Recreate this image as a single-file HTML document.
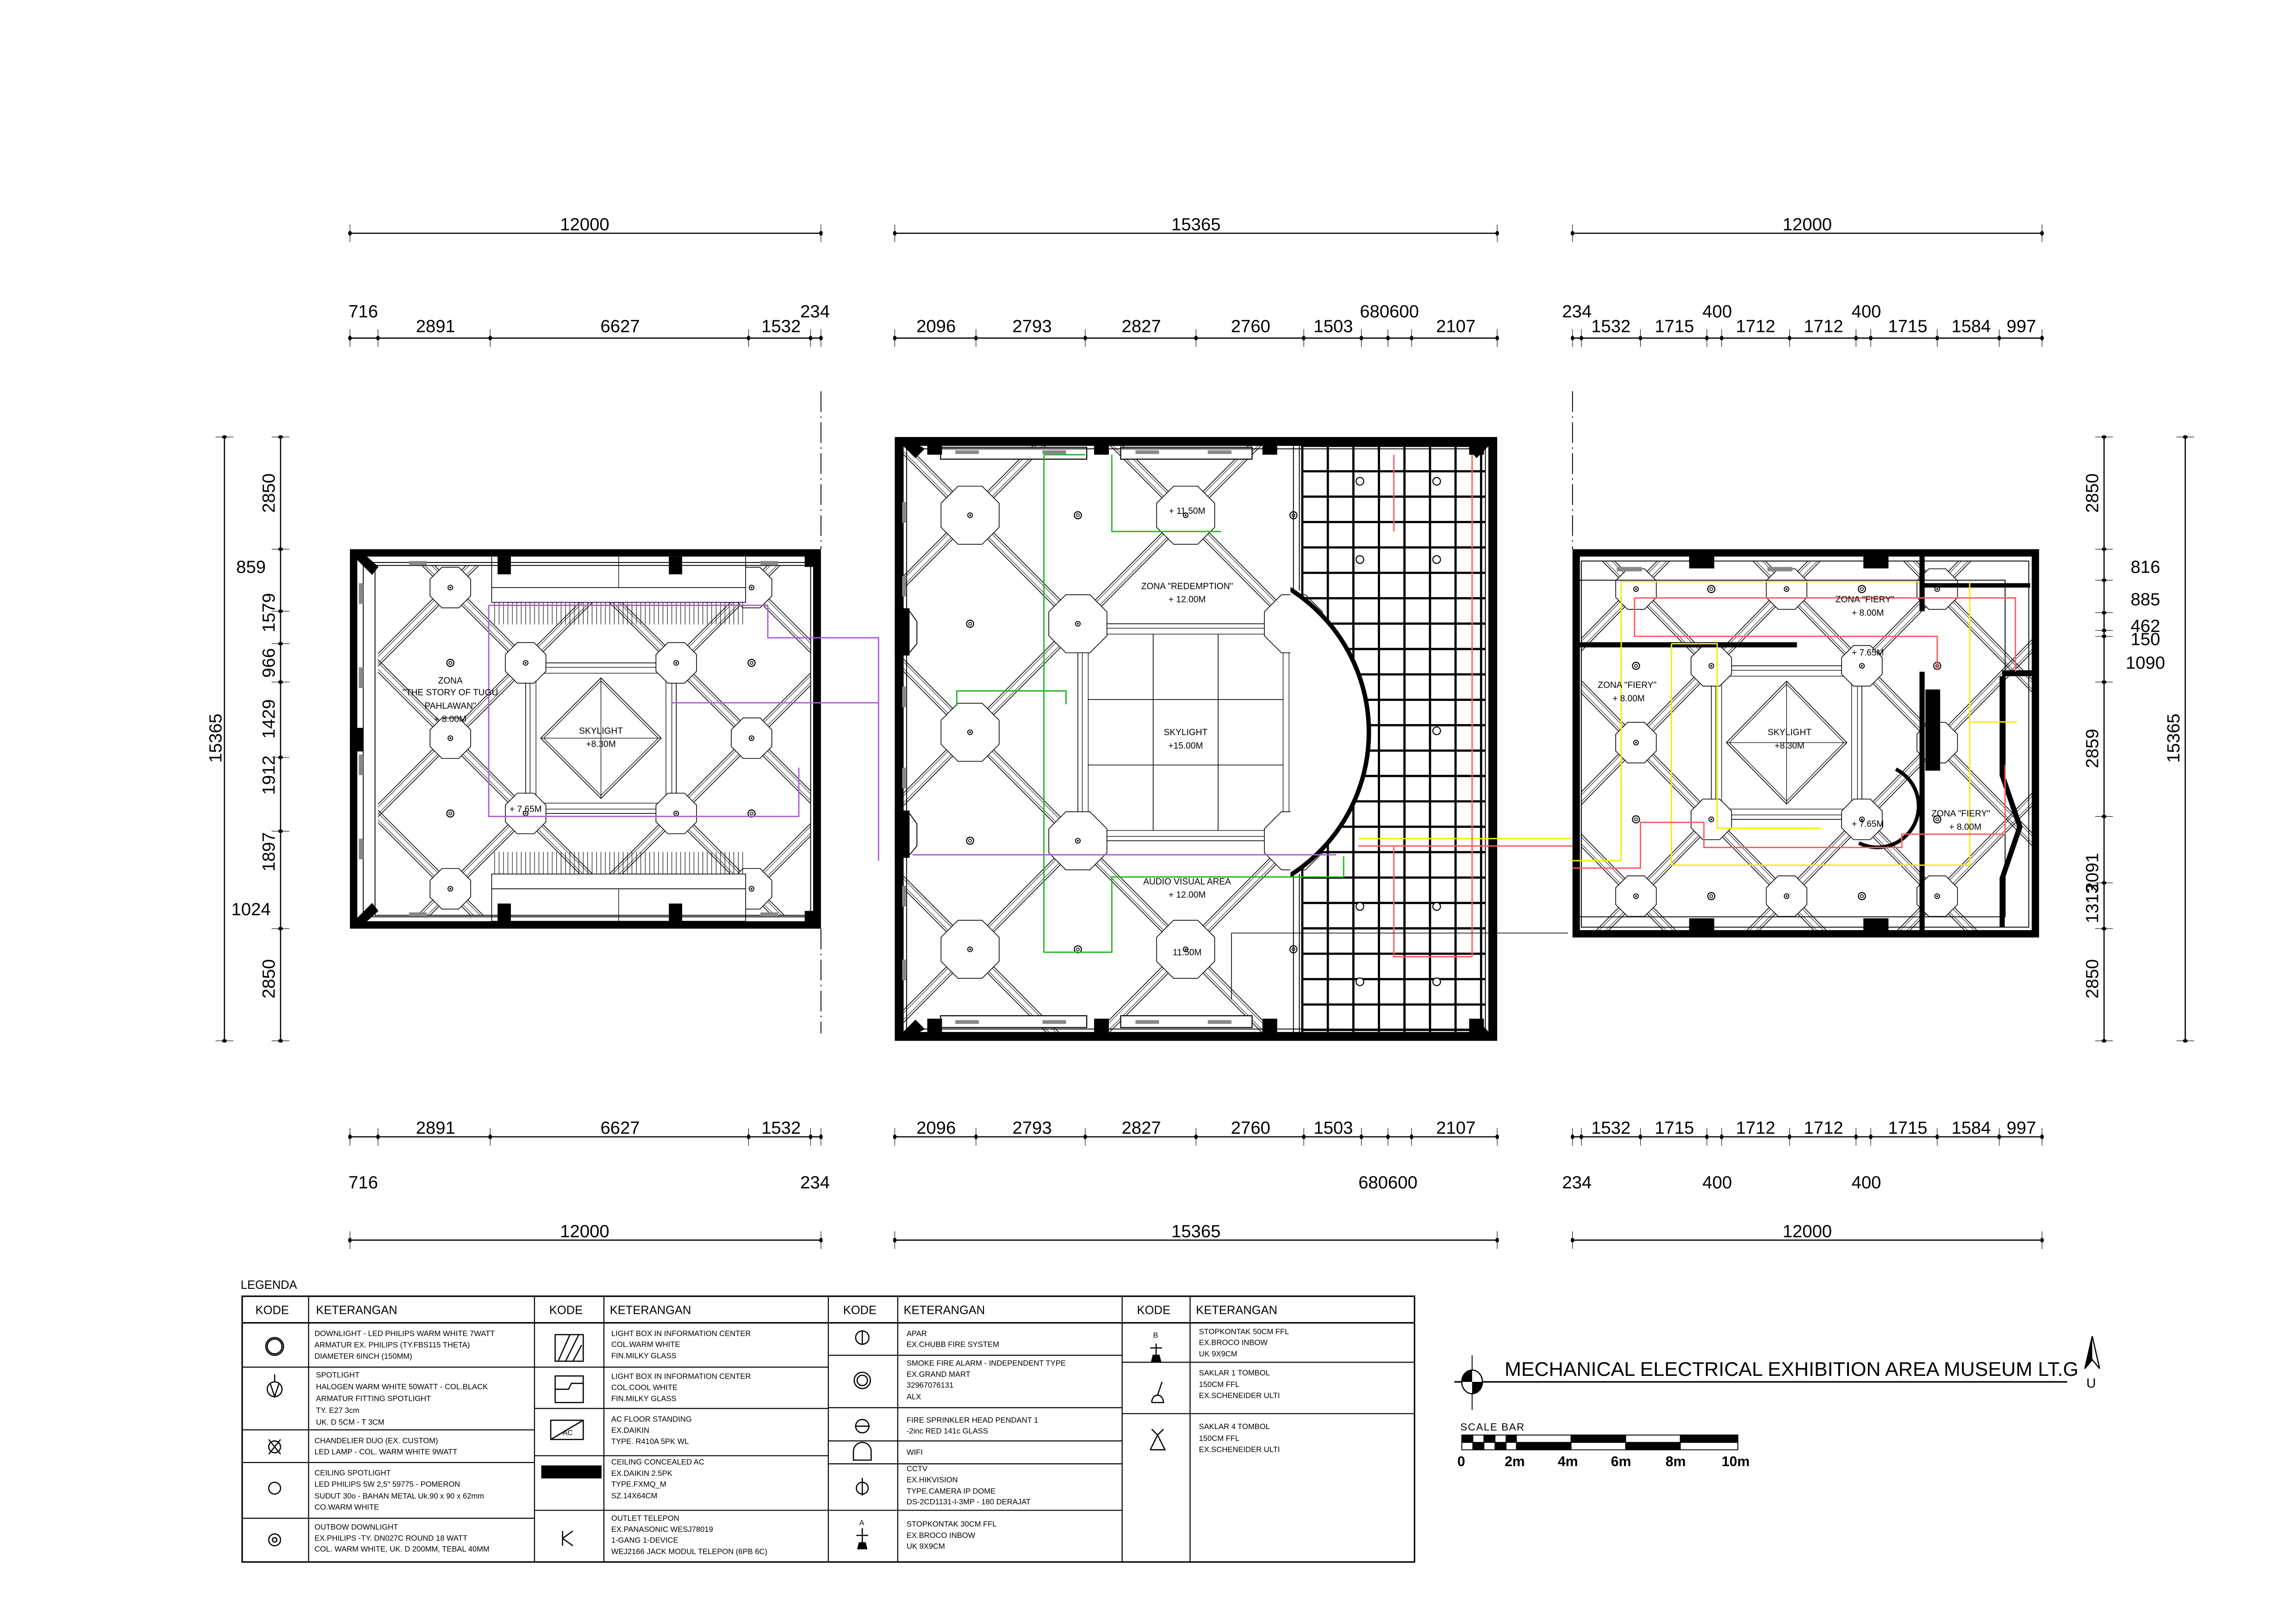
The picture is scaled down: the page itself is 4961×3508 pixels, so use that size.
<!DOCTYPE html>
<html><head><meta charset="utf-8"><style>
html,body{margin:0;padding:0;background:#fff}
svg{display:block}
text{font-family:"Liberation Sans",sans-serif;fill:#000}
.d{font-size:12px;text-anchor:middle}
.l{font-size:6px;text-anchor:middle}
.t{font-size:5.2px}
.h{font-size:8px}
</style></head><body>
<svg id="s" xmlns="http://www.w3.org/2000/svg" width="4961" height="3508" viewBox="0 0 1555 1100" preserveAspectRatio="none">
<rect width="1555" height="1100" fill="#fff"/>
<g id="geo"></g>
<!-- top dimension texts -->
<g class="dt">
<text class="d" x="396" y="156">12000</text><text class="d" x="810" y="156">15365</text><text class="d" x="1224" y="156">12000</text>
<text class="d" x="246" y="215">716</text><text class="d" x="552" y="215">234</text>
<text class="d" x="295" y="225">2891</text><text class="d" x="420" y="225">6627</text><text class="d" x="529" y="225">1532</text>
<text class="d" x="634" y="225">2096</text><text class="d" x="699" y="225">2793</text><text class="d" x="773" y="225">2827</text><text class="d" x="847" y="225">2760</text><text class="d" x="903" y="225">1503</text><text class="d" x="941" y="215">680600</text><text class="d" x="986" y="225">2107</text>
<text class="d" x="1068" y="215">234</text><text class="d" x="1163" y="215">400</text><text class="d" x="1264" y="215">400</text>
<text class="d" x="1091" y="225">1532</text><text class="d" x="1134" y="225">1715</text><text class="d" x="1189" y="225">1712</text><text class="d" x="1235" y="225">1712</text><text class="d" x="1292" y="225">1715</text><text class="d" x="1335" y="225">1584</text><text class="d" x="1369" y="225">997</text>
<!-- bottom -->
<text class="d" x="295" y="768">2891</text><text class="d" x="420" y="768">6627</text><text class="d" x="529" y="768">1532</text>
<text class="d" x="634" y="768">2096</text><text class="d" x="699" y="768">2793</text><text class="d" x="773" y="768">2827</text><text class="d" x="847" y="768">2760</text><text class="d" x="903" y="768">1503</text><text class="d" x="986" y="768">2107</text>
<text class="d" x="1091" y="768">1532</text><text class="d" x="1134" y="768">1715</text><text class="d" x="1189" y="768">1712</text><text class="d" x="1235" y="768">1712</text><text class="d" x="1292" y="768">1715</text><text class="d" x="1335" y="768">1584</text><text class="d" x="1369" y="768">997</text>
<text class="d" x="246" y="805">716</text><text class="d" x="552" y="805">234</text><text class="d" x="940" y="805">680600</text>
<text class="d" x="1068" y="805">234</text><text class="d" x="1163" y="805">400</text><text class="d" x="1264" y="805">400</text>
<text class="d" x="396" y="838">12000</text><text class="d" x="810" y="838">15365</text><text class="d" x="1224" y="838">12000</text>
<!-- left vertical -->
<text class="d" transform="translate(150,500) rotate(-90)">15365</text>
<text class="d" transform="translate(186,334) rotate(-90)">2850</text>
<text class="d" x="170" y="388">859</text>
<text class="d" transform="translate(186,415) rotate(-90)">1579</text>
<text class="d" transform="translate(186,449) rotate(-90)">966</text>
<text class="d" transform="translate(186,487) rotate(-90)">1429</text>
<text class="d" transform="translate(186,525) rotate(-90)">1912</text>
<text class="d" transform="translate(186,577) rotate(-90)">1897</text>
<text class="d" x="170" y="620">1024</text>
<text class="d" transform="translate(186,663) rotate(-90)">2850</text>
<!-- right vertical -->
<text class="d" transform="translate(1421,334) rotate(-90)">2850</text>
<text class="d" x="1453" y="388">816</text><text class="d" x="1453" y="410">885</text><text class="d" x="1453" y="428">462</text><text class="d" x="1453" y="437">150</text><text class="d" x="1453" y="453">1090</text>
<text class="d" transform="translate(1421,507) rotate(-90)">2859</text>
<text class="d" transform="translate(1421,591) rotate(-90)">2091</text>
<text class="d" transform="translate(1421,612) rotate(-90)">1313</text>
<text class="d" transform="translate(1421,663) rotate(-90)">2850</text>
<text class="d" transform="translate(1476,500) rotate(-90)">15365</text>
</g>
<!-- plan labels -->
<g>
<text class="l" x="305" y="463">ZONA</text><text class="l" x="305" y="471">"THE STORY OF TUGU</text><text class="l" x="305" y="480">PAHLAWAN"</text><text class="l" x="305" y="489">+ 8.00M</text>
<text class="l" x="407" y="497">SKYLIGHT</text><text class="l" x="407" y="506">+8.30M</text><text class="l" x="356" y="550">+ 7.65M</text>
<text class="l" x="804" y="348">+ 11.50M</text><text class="l" x="804" y="399">ZONA "REDEMPTION"</text><text class="l" x="804" y="408">+ 12.00M</text>
<text class="l" x="803" y="498">SKYLIGHT</text><text class="l" x="803" y="507">+15.00M</text>
<text class="l" x="804" y="599">AUDIO VISUAL AREA</text><text class="l" x="804" y="608">+ 12.00M</text><text class="l" x="804" y="647">11.50M</text>
<text class="l" x="1263" y="408">ZONA "FIERY"</text><text class="l" x="1265" y="417">+ 8.00M</text>
<text class="l" x="1102" y="466">ZONA "FIERY"</text><text class="l" x="1103" y="475">+ 8.00M</text>
<text class="l" x="1212" y="498">SKYLIGHT</text><text class="l" x="1212" y="507">+8.30M</text>
<text class="l" x="1265" y="444">+ 7.65M</text><text class="l" x="1265" y="560">+ 7.65M</text>
<text class="l" x="1328" y="553">ZONA "FIERY"</text><text class="l" x="1331" y="562">+ 8.00M</text>
</g>
<!-- legend -->
<g>
<text class="h" x="163" y="873">LEGENDA</text>
<rect x="164" y="878" width="794" height="180" fill="none" stroke="#000" stroke-width="1"/>
<line x1="164" y1="896" x2="958" y2="896" stroke="#000" stroke-width="1"/>
<g stroke="#000" stroke-width="0.7">
<line x1="209" y1="878" x2="209" y2="1058"/><line x1="362" y1="878" x2="362" y2="1058"/><line x1="409" y1="878" x2="409" y2="1058"/><line x1="561" y1="878" x2="561" y2="1058"/><line x1="608" y1="878" x2="608" y2="1058"/><line x1="760" y1="878" x2="760" y2="1058"/><line x1="806" y1="878" x2="806" y2="1058"/>
<line x1="164" y1="926" x2="362" y2="926"/><line x1="164" y1="968.5" x2="362" y2="968.5"/><line x1="164" y1="990.6" x2="362" y2="990.6"/><line x1="164" y1="1028.4" x2="362" y2="1028.4"/>
<line x1="362" y1="926" x2="561" y2="926"/><line x1="362" y1="954" x2="561" y2="954"/><line x1="362" y1="986" x2="561" y2="986"/><line x1="362" y1="1023" x2="561" y2="1023"/>
<line x1="561" y1="918" x2="760" y2="918"/><line x1="561" y1="953.5" x2="760" y2="953.5"/><line x1="561" y1="976" x2="760" y2="976"/><line x1="561" y1="991.5" x2="760" y2="991.5"/><line x1="561" y1="1023" x2="760" y2="1023"/>
<line x1="760" y1="922.7" x2="958" y2="922.7"/><line x1="760" y1="957.5" x2="958" y2="957.5"/>
</g>
<text class="h" x="173" y="890">KODE</text><text class="h" x="214" y="890">KETERANGAN</text>
<text class="h" x="372" y="890">KODE</text><text class="h" x="413" y="890">KETERANGAN</text>
<text class="h" x="571" y="890">KODE</text><text class="h" x="612" y="890">KETERANGAN</text>
<text class="h" x="770" y="890">KODE</text><text class="h" x="810" y="890">KETERANGAN</text>
<g class="t">
<text x="213" y="905">DOWNLIGHT - LED PHILIPS WARM WHITE 7WATT</text><text x="213" y="912.6">ARMATUR EX. PHILIPS (TY.FBS115 THETA)</text><text x="213" y="920.4">DIAMETER 6INCH (150MM)</text>
<text x="214" y="933">SPOTLIGHT</text><text x="214" y="941">HALOGEN WARM WHITE 50WATT - COL.BLACK</text><text x="214" y="949">ARMATUR FITTING SPOTLIGHT</text><text x="214" y="957">TY. E27 3cm</text><text x="214" y="965">UK. D 5CM - T 3CM</text>
<text x="213" y="977.6">CHANDELIER DUO (EX. CUSTOM)</text><text x="213" y="985">LED LAMP - COL. WARM WHITE 9WATT</text>
<text x="213" y="999.4">CEILING SPOTLIGHT</text><text x="213" y="1007">LED PHILIPS 5W 2,5" 59775 -  POMERON</text><text x="213" y="1015">SUDUT 30o - BAHAN METAL Uk.90 x 90 x 62mm</text><text x="213" y="1022.6">CO.WARM WHITE</text>
<text x="213" y="1036">OUTBOW DOWNLIGHT</text><text x="213" y="1043.5">EX.PHILIPS -TY. DN027C ROUND 18 WATT</text><text x="213" y="1051">COL. WARM WHITE, UK. D 200MM, TEBAL 40MM</text>
<text x="414" y="905">LIGHT BOX IN INFORMATION CENTER</text><text x="414" y="912.4">COL.WARM WHITE</text><text x="414" y="920">FIN.MILKY GLASS</text>
<text x="414" y="934">LIGHT BOX IN INFORMATION CENTER</text><text x="414" y="941.5">COL.COOL WHITE</text><text x="414" y="949">FIN.MILKY GLASS</text>
<text x="414" y="963">AC FLOOR STANDING</text><text x="414" y="970.5">EX.DAIKIN</text><text x="414" y="978">TYPE.  R410A 5PK WL</text>
<text x="414" y="992">CEILING CONCEALED AC</text><text x="414" y="999.6">EX.DAIKIN 2.5PK</text><text x="414" y="1007">TYPE.FXMQ_M</text><text x="414" y="1014.8">SZ.14X64CM</text>
<text x="414" y="1030">OUTLET TELEPON</text><text x="414" y="1037.6">EX.PANASONIC WESJ78019</text><text x="414" y="1045">1-GANG 1-DEVICE</text><text x="414" y="1052.6">WEJ2166 JACK MODUL TELEPON (6PB 6C)</text>
<text x="614" y="905">APAR</text><text x="614" y="912.4">EX.CHUBB FIRE SYSTEM</text>
<text x="614" y="925">SMOKE FIRE ALARM - INDEPENDENT TYPE</text><text x="614" y="932.6">EX.GRAND MART</text><text x="614" y="940">32967076131</text><text x="614" y="947.7">ALX</text>
<text x="614" y="963.6">FIRE SPRINKLER HEAD PENDANT 1</text><text x="614" y="971">-2inc RED 141c GLASS</text>
<text x="614" y="985.4">WIFI</text>
<text x="614" y="996.6">CCTV</text><text x="614" y="1004">EX.HIKVISION</text><text x="614" y="1011.7">TYPE.CAMERA IP DOME</text><text x="614" y="1019">DS-2CD1131-I-3MP - 180 DERAJAT</text>
<text x="614" y="1034">STOPKONTAK 30CM FFL</text><text x="614" y="1041.7">EX.BROCO INBOW</text><text x="614" y="1049">UK 9X9CM</text>
<text x="812" y="903.7">STOPKONTAK 50CM FFL</text><text x="812" y="911">EX.BROCO INBOW</text><text x="812" y="918.7">UK 9X9CM</text>
<text x="812" y="931.6">SAKLAR 1 TOMBOL</text><text x="812" y="939.4">150CM FFL</text><text x="812" y="947">EX.SCHENEIDER ULTI</text>
<text x="812" y="968">SAKLAR 4 TOMBOL</text><text x="812" y="976">150CM FFL</text><text x="812" y="983.5">EX.SCHENEIDER ULTI</text>
</g>
<!-- legend icons -->
<g fill="none" stroke="#000" stroke-width="0.8">
<circle cx="186" cy="912" r="6"/><circle cx="186" cy="912" r="5"/>
<circle cx="186" cy="941" r="5"/><path d="M183 937 L186 946 L189 937 M186 936 V931"/>
<circle cx="186" cy="980" r="4"/><path d="M182 975 L190 985 M190 975 L182 985"/>
<circle cx="186" cy="1008" r="4"/>
<circle cx="186" cy="1043" r="4"/><circle cx="186" cy="1043" r="1.5"/>
<rect x="376" y="904" width="19" height="18"/><path d="M378 922 L386 904 M383 922 L392 904 M388 922 L394 911"/>
<rect x="376" y="932" width="19" height="18"/><path d="M376 941 H385 L387 937 H395"/>
<rect x="373" y="962" width="22" height="13"/><path d="M373 975 L395 962"/><text x="381" y="972" style="font-size:5px;fill:#000;stroke:none">AC</text>
<rect x="367" y="993" width="40" height="8" fill="#000"/>
<path d="M381 1037 V1047 M381 1042 L388 1037 M381 1042 L388 1047"/>
<circle cx="584" cy="906" r="4.5"/><line x1="584" y1="901" x2="584" y2="911"/>
<circle cx="584" cy="935" r="5.5"/><circle cx="584" cy="935" r="3.5"/>
<circle cx="584" cy="966" r="4.5"/><line x1="579" y1="966" x2="589" y2="966"/>
<path d="M578 989 V983 A6 6 0 0 1 590 983 V989 Z"/>
<circle cx="584" cy="1008" r="4"/><line x1="584" y1="1001" x2="584" y2="1013"/>
<path d="M584 1035 V1045 M580 1040 H588"/><path d="M582 1045 H586 L587 1049 H581 Z" fill="#000"/>
<path d="M783 910 V918 M779 913 H787"/><path d="M781 918 H785 L786 922 H780 Z" fill="#000"/>
<path d="M780 950 H788 A4 5 0 0 0 780 950 M784 945 L787 936"/>
<path d="M779 982 H789 L787 978 M781 978 L779 982 M781 978 L784 972 L787 978 M784 972 L780 968 M784 972 L788 968"/>
</g>
<text x="781" y="906" style="font-size:5px">B</text><text x="582" y="1033" style="font-size:5px">A</text>
</g>
<!-- title -->
<g>
<line x1="985" y1="936" x2="1400" y2="936" stroke="#000" stroke-width="1"/>
<line x1="997" y1="918" x2="997" y2="955" stroke="#000" stroke-width="0.6"/>
<ellipse cx="997" cy="936" rx="7" ry="8" fill="#fff" stroke="#000" stroke-width="0.8"/>
<path d="M997 936 H990 A7 8 0 0 1 997 928 Z M997 936 H1004 A7 8 0 0 1 997 944 Z" fill="#000"/>
<text x="1019" y="932" style="font-size:13.5px">MECHANICAL ELECTRICAL EXHIBITION AREA MUSEUM LT.G</text>
<path d="M1417 905 L1412 927 L1417 921 L1422 927 Z" fill="none" stroke="#000" stroke-width="0.8"/><path d="M1417 905 L1417 921 L1412 927 Z" fill="#000"/>
<text x="1413" y="940" style="font-size:9px">U</text>
<text x="989" y="969" style="font-size:7px;letter-spacing:0.5px">SCALE BAR</text>
<g stroke="#000" stroke-width="0.6">
<rect x="990" y="972" width="187" height="10" fill="#fff"/>
<rect x="990" y="972" width="7.5" height="5" fill="#000"/><rect x="1005" y="972" width="7.5" height="5" fill="#000"/><rect x="1020" y="972" width="7" height="5" fill="#000"/><rect x="1064" y="972" width="37" height="5" fill="#000"/><rect x="1138" y="972" width="39" height="5" fill="#000"/>
<rect x="997.5" y="977" width="7.5" height="5" fill="#000"/><rect x="1012.5" y="977" width="7.5" height="5" fill="#000"/><rect x="1027" y="977" width="37" height="5" fill="#000"/><rect x="1101" y="977" width="37" height="5" fill="#000"/>
</g>
<g style="font-size:9.5px;font-weight:bold">
<text x="987" y="993">0</text><text x="1019" y="993">2m</text><text x="1055" y="993">4m</text><text x="1091" y="993">6m</text><text x="1128" y="993">8m</text><text x="1166" y="993">10m</text>
</g>
</g>
</svg>
<script>
(function(){
let o='';
const k='#000';
function L(a,b,c,d,s,w,extra){o+=`<line x1="${a.toFixed(2)}" y1="${b.toFixed(2)}" x2="${c.toFixed(2)}" y2="${d.toFixed(2)}" stroke="${s||k}" stroke-width="${w||0.5}" ${extra||''}/>`;}
function P(d,s,w,f){o+=`<path d="${d}" stroke="${s||k}" stroke-width="${w||0.5}" fill="${f||'none'}"/>`;}
function R(x,y,w,h,f,s,sw){o+=`<rect x="${x}" y="${y}" width="${w}" height="${h}" fill="${f||'none'}" stroke="${s||'none'}" stroke-width="${sw||0.5}"/>`;}
function C(x,y,r,f,s,w){o+=`<circle cx="${x.toFixed(2)}" cy="${y.toFixed(2)}" r="${r}" fill="${f||'none'}" stroke="${s||'none'}" stroke-width="${w||0.5}"/>`;}
// dimension lines
function dimH(y,t){L(t[0],y,t[t.length-1],y,k,0.8);t.forEach(x=>{L(x,y-6,x,y+6,k,0.35);o+=`<ellipse cx="${x}" cy="${y}" rx="1.2" ry="1.6" fill="#000"/>`;});}
function dimV(x,t){L(x,t[0],x,t[t.length-1],k,0.8);t.forEach(y=>{L(x-6,y,x+6,y,k,0.35);o+=`<ellipse cx="${x}" cy="${y}" rx="1.6" ry="1.2" fill="#000"/>`;});}
const lt=[237,256,332,507,549,556], mt=[606,661,735,810,883,922,940,956,1014], rt=[1065,1071,1111,1156,1166,1212,1257,1267,1312,1354,1383];
dimH(158,[237,556]);dimH(158,[606,1014]);dimH(158,[1065,1383]);
dimH(229,lt);dimH(229,mt);dimH(229,rt);
dimH(770,lt);dimH(770,mt);dimH(770,rt);
dimH(840,[237,556]);dimH(840,[606,1014]);dimH(840,[1065,1383]);
dimV(152,[296,705]);dimV(190,[296,372,414,436,462,513,563,629,705]);
dimV(1425,[296,372,393,415,427,431,462,553,598,629,705]);dimV(1480,[296,705]);
// dash-dot center lines
L(556,265,556,372,k,0.6,'stroke-dasharray="14 3 1 3"');L(556,629,556,700,k,0.6,'stroke-dasharray="14 3 1 3"');
L(1065,265,1065,372,k,0.6,'stroke-dasharray="14 3 1 3"');
let cid=0;
function plan(p){
 const id='c'+(cid++);
 o+=`<clipPath id="${id}"><rect x="${p.ix0}" y="${p.iy0}" width="${p.ix1-p.ix0}" height="${p.iy1-p.iy0}"/></clipPath><g clip-path="url(#${id})">`;
 const {xc,yc,dx,dy}=p; const len=Math.hypot(dx,dy);
 for(let sg of [1,-1]){
  for(let m=-6;m<=6;m++){
   const bx=xc+2*m*dx, by=yc;
   const ux=dx/len, uy=sg*dy/len, nx=-uy, ny=ux;
   for(const off of [-3,-1.6,1.6,3]){
    L(bx+nx*off-ux*600,by+ny*off-uy*600,bx+nx*off+ux*600,by+ny*off+uy*600,'#000',Math.abs(off)>2?0.5:0.3);
   }
  }
 }
 o+='</g>';
 // skylight
 const sx0=xc-dx, sx1=xc+dx, sy0=yc-dy, sy1=yc+dy;
 R(sx0,sy0,sx1-sx0,sy1-sy0,'#fff','#000',0.5);
 R(sx0+3,sy0+3,sx1-sx0-6,sy1-sy0-6,'none','#000',0.4);
 R(sx0+7,sy0+7,sx1-sx0-14,sy1-sy0-14,'none','#000',0.4);
 if(p.sky==='diamond'){
  const a=dx*0.8,b=dy*0.8;
  P(`M${xc-a} ${yc} L${xc} ${yc-b} L${xc+a} ${yc} L${xc} ${yc+b} Z`,k,0.5);
  P(`M${xc-a+2} ${yc} L${xc} ${yc-b+2} L${xc+a-2} ${yc} L${xc} ${yc+b-2} Z`,k,0.4);
  L(xc-a,yc,xc+a,yc,k,0.4);L(xc,yc-b,xc,yc+b,k,0.4);
 } else {
  const gx0=sx0+7,gx1=sx1-7,gy0=sy0+7,gy1=sy1-7;
  for(let i=1;i<3;i++){L(gx0+(gx1-gx0)*i/3,gy0,gx0+(gx1-gx0)*i/3,gy1,k,0.5);L(gx0,gy0+(gy1-gy0)*i/3,gx1,gy0+(gy1-gy0)*i/3,k,0.5);}
 }
 // nodes
 const r=0.27*Math.min(dx,dy);
 for(let i=-2;i<=2;i++)for(let j=-2;j<=2;j++){
  const x=xc+i*dx,y=yc+j*dy;
  if((i+j)%2===0){ if(p.skipN(i,j))continue;
   let pts=[];for(let q=0;q<8;q++){const an=Math.PI/8+q*Math.PI/4;pts.push((x+r*1.08*Math.cos(an)).toFixed(2)+','+(y+r*1.08*Math.sin(an)).toFixed(2));}
   o+=`<polygon points="${pts.join(' ')}" fill="#fff" stroke="#000" stroke-width="0.5"/>`;
   C(x,y,1.6,'#fff','#000',0.6);C(x,y,0.6,'#000');
  } else { if(p.skipD(i,j))continue;
   C(x,y,2.4,'#fff','#000',0.7);C(x,y,1,'none','#000',0.5);
  }
 }
}
// LEFT PLAN
R(256,383,293,237,'#fff');
plan({ix0:256,iy0:383,ix1:549,iy1:620,xc:407,yc:500,dx:51,dy:51,sky:'diamond',
 skipN:(i,j)=>(i===0),skipD:(i,j)=>(Math.abs(i)<=1&&Math.abs(j)<=1&&!(i===0))||(i===0&&Math.abs(j)===1)});
for(const y of [[376,398,408],[605,593,590]]){}
// stairs left
R(333,376,172,22,'#fff','#000',0.5);L(419,376,419,398,k,0.4);R(333,398,172,10,'#fff','#000',0.5);
for(let x=335;x<505;x+=3)L(x,408,x,423,k,0.35);
R(337,377,9,12,'#000');R(453,377,9,12,'#000');
R(333,602,172,22,'#fff','#000',0.5);L(419,602,419,624,k,0.4);R(333,592,172,10,'#fff','#000',0.5);
for(let x=335;x<505;x+=3)L(x,577,x,592,k,0.35);
R(337,612,9,12,'#000');R(453,612,9,12,'#000');
// left walls
R(239.5,374.5,314,252,'none','#000',5);
R(246,381,303,240,'none','#000',0.6);R(254,383,297,237,'none','#000',0.6);
for(const y of [395,452,511,568])R(243,y,3,14,'#888');
for(const x of [277,515])R(x,380,12,2.5,'#888');for(const x of [277,515])R(x,618,12,2.5,'#888');
R(237,493,9,16,'#000');R(545,374,9,10,'#000');R(545,617,9,10,'#000');
P('M240 377 L252 389 L256 384 L246 375 Z',k,0.5,'#000');P('M240 624 L252 612 L256 617 L246 626 Z',k,0.5,'#000');
// MIDDLE PLAN
R(612,302,396,397,'#fff');
plan({ix0:612,iy0:302,ix1:876,iy1:699,xc:803,yc:496,dx:73,dy:73.5,sky:'grid',
 skipN:(i,j)=>(i>=2)||(i===0&&j===0),skipD:(i,j)=>(i>=2)||(Math.abs(i)<=1&&Math.abs(j)<=1&&i*j===0&&!(i===0&&j===0)?false:false)||(i===0&&j===0)||(Math.abs(i)<=1&&Math.abs(j)<=1)});
// grid
for(let x=882;x<=1006;x+=17.3)L(x,302,x,699,k,1.5);
for(let y=302;y<=699;y+=17.2)L(882,y,1006,y,k,1.5);
// white bulge + arc
o+='<clipPath id="bz"><rect x="874" y="380" width="60" height="230"/></clipPath>';
o+='<circle cx="812.6" cy="496" r="113.7" fill="#fff" clip-path="url(#bz)"/>';
for(const m of [0]){}
o+='<g clip-path="url(#bz)"><circle cx="812.6" cy="496" r="114.5" fill="none" stroke="#000" stroke-width="3"/></g>';
L(876,302,876,400,k,0.6);L(880,302,880,400,k,0.6);L(876,592,876,699,k,0.6);L(880,592,880,699,k,0.6);
for(const x of [[637,736],[759,848]]){R(x[0],303,x[1]-x[0],8,'#fff','#000',0.7);R(x[0],688,x[1]-x[0],8,'#fff','#000',0.7);R(x[0]+10,305,16,2.5,'#888');R(x[1]-30,305,16,2.5,'#888');R(x[0]+10,691,16,2.5,'#888');R(x[1]-30,691,16,2.5,'#888');}
for(const x of [628,741,855,995]){R(x,298,10,10,'#000');R(x,690,10,10,'#000');}
R(609,299,402,403,'none','#000',6);
R(614,304,392,393,'none','#000',0.6);
R(606,412,10,32,'#000');R(606,549,10,32,'#000');
P('M616 414 L621 421 L621 436 L616 442',k,0.6);P('M616 551 L621 558 L621 573 L616 579',k,0.6);
for(const y of [340,390,465,520,600,650])R(611,y,2.5,14,'#888');
P('M609 299 L620 310 L626 304 L617 299 Z',k,0.5,'#000');P('M609 702 L620 691 L626 697 L617 702 Z',k,0.5,'#000');
P('M1011 299 L1000 310 L995 304 L1002 299 Z',k,0.5,'#000');P('M1011 702 L1000 691 L995 697 L1002 702 Z',k,0.5,'#000');
// grid fixtures
for(const [x,y] of [[921,326],[973,326],[921,379],[973,379],[973,495],[921,614],[973,614],[921,665],[973,665]])C(x,y,2.6,'#fff','#000',0.7);
// RIGHT PLAN
R(1071,380,304,250,'#fff');
plan({ix0:1071,iy0:380,ix1:1376,iy1:630,xc:1210,yc:503,dx:51,dy:52,sky:'diamond',
 skipN:(i,j)=>(i===0&&j===0),skipD:(i,j)=>(Math.abs(i)<=1&&Math.abs(j)<=1)});
R(1067.5,374.5,311,258,'none','#000',5);
R(1071,380,303,248,'none','#000',0.6);R(1068,393,290,228,'none','#000',0.6);
for(const x of [1095,1197])R(x,384,17,3,'#888');
for(const x of [1144,1262])R(x,374,17,11,'#000');for(const x of [1144,1262])R(x,622,17,12,'#000');
R(1068,435,149,3.5,'#000');R(1300,455,3.5,180,'#000');R(1300,374,3.5,40,'#000');R(1303,395,72,3,'#000');R(1356,454,20,4,'#000');
R(1304,467,10,55,'#000');
P('M1356 458 V525 L1368 560 L1356 595 V628',k,3.5);
P('M1284 521 A26 26 0 0 1 1259 571',k,2.5);
// wiring
const Y='#f2ee00',RD='#ff5a5a',G='#22b522',PU='#b25ad8';
P('M1098 583 V394 H1300',Y,0.9);P('M1065 583 H1098',Y,0.9);
P('M1132 436 H1163 V561 H1233 M1132 436 V586 H1334 V394 M1334 489 H1366',Y,0.9);
P('M1107 405 H1365 V455 M1107 405 V431 H1312 V454',RD,0.9);
P('M1065 588 H1111 V557 H1154 V574 H1288 V565 H1358 V518',RD,0.9);
P('M920 568 H1065',Y,0.9);P('M920 573 H1065',RD,0.9);
P('M944 308 V360 M997 308 V648 M944 573 V648 H997',RD,0.9);
P('M834 632 H1062 M834 632 V677',k,0.5);
P('M707 308 V645 H753 V594 H910 V580 M707 308 H735 M753 308 V360 H827 M648 478 V468 H722 V477',G,0.9);
P('M618 579 H905',PU,0.9);
P('M331 410 H520 V432 H595 V583 M331 410 V553 H541 V520 M455 476 H595',PU,0.9);
document.getElementById('geo').innerHTML=o;
})();
</script>
</body></html>
